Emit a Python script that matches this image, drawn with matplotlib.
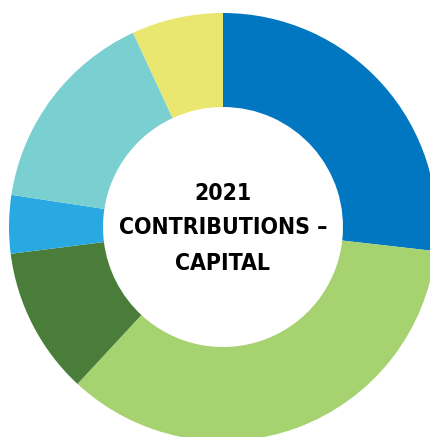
import matplotlib.pyplot as plt

labels = ['Blue', 'Light green', 'Dark green', 'Bright blue', 'Teal', 'Yellow']
shares = [26.8, 35.1, 11.1, 4.4, 15.7, 6.9]
colors = ['#0077C0', '#A6D270', '#4A7D3A', '#29A9E1', '#7ACFD1', '#E9E76F']
title_lines = ['2021', 'CONTRIBUTIONS \u2013', 'CAPITAL']

fig = plt.figure(figsize=(4.31, 4.37), dpi=100)
ax = fig.add_axes([0, 0, 1, 1])

R = 214
ax.pie(shares, colors=colors, radius=R, startangle=90, counterclock=False,
       wedgeprops=dict(width=R - 120, linewidth=0))

# axes in pixel-like units, ring centre sits at (223, 227) from top-left
ax.set_xlim(-223, 431 - 223)
ax.set_ylim(227 - 437, 227)
ax.set_aspect('equal')
ax.axis('off')

for i, line in enumerate(title_lines):
    ax.text(0, 34 - i * 35, line, ha='center', va='center', fontsize=16.5,
            fontweight='bold', fontstretch='condensed', family='DejaVu Sans',
            color='black')

fig.savefig('out.png', dpi=100)
